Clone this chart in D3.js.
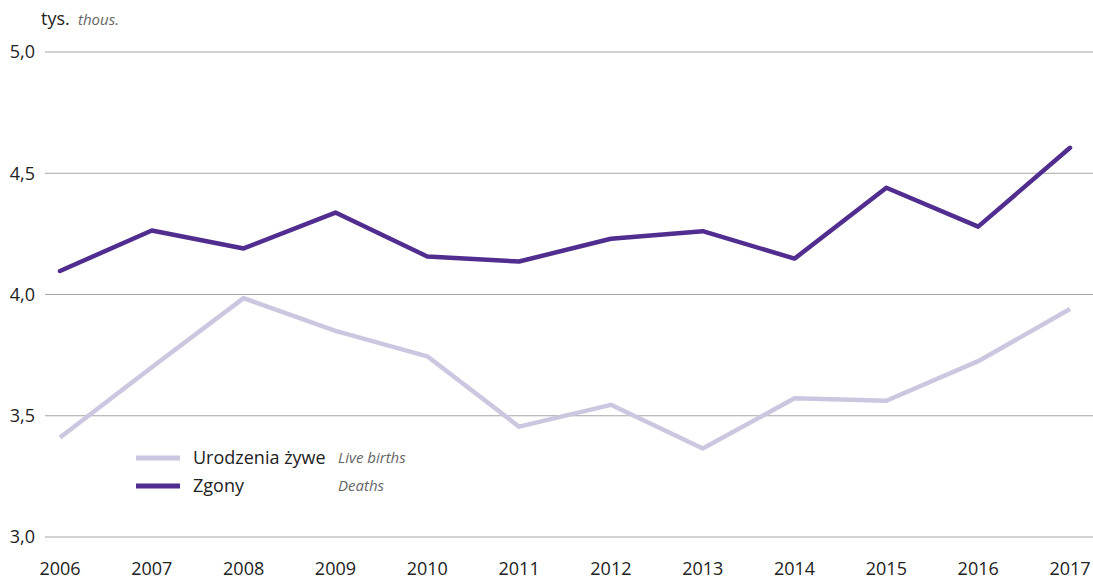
<!DOCTYPE html>
<html>
<head>
<meta charset="utf-8">
<script src="https://cdn.jsdelivr.net/npm/d3@7"></script>
<style>
  body { margin: 0; background: #fff; }
  svg { font-family: "Open Sans", "Noto Sans", sans-serif; }
</style>
</head>
<body>
<div id="chart"></div>
<script>
// data
var years = [2006, 2007, 2008, 2009, 2010, 2011, 2012, 2013, 2014, 2015, 2016, 2017];
var births = [3.41, 3.70, 3.985, 3.85, 3.745, 3.455, 3.545, 3.365, 3.572, 3.562, 3.725, 3.94];
var deaths = [4.097, 4.264, 4.19, 4.338, 4.157, 4.136, 4.23, 4.261, 4.148, 4.44, 4.28, 4.605];
var yTicks = [3.0, 3.5, 4.0, 4.5, 5.0];

var svgWidth = 1093, svgHeight = 579;

var svg = d3.select("#chart").append("svg")
  .attr("width", svgWidth)
  .attr("height", svgHeight);

var x = d3.scalePoint()
  .domain(years)
  .range([60, 1070]);

var y = d3.scaleLinear()
  .domain([3.0, 5.0])
  .range([537, 52]);

// gridlines
svg.append("g")
  .selectAll("line")
  .data(yTicks)
  .enter()
  .append("line")
  .attr("x1", 45)
  .attr("x2", svgWidth)
  .attr("y1", d => y(d))
  .attr("y2", d => y(d))
  .attr("stroke", "#a6a6a6")
  .attr("stroke-width", 1);

// y labels
svg.append("g")
  .selectAll("text")
  .data(yTicks)
  .enter()
  .append("text")
  .attr("x", 35)
  .attr("y", d => y(d))
  .attr("dy", "0.35em")
  .attr("text-anchor", "end")
  .attr("font-size", 18)
  .attr("fill", "#222")
  .text(d => d.toFixed(1).replace(".", ","));

// x labels
svg.append("g")
  .selectAll("text")
  .data(years)
  .enter()
  .append("text")
  .attr("x", d => x(d))
  .attr("y", 575)
  .attr("text-anchor", "middle")
  .attr("font-size", 18)
  .attr("fill", "#222")
  .text(d => d);

// unit label
svg.append("text")
  .attr("x", 41).attr("y", 25)
  .attr("font-size", 18).attr("fill", "#222")
  .text("tys.");
svg.append("text")
  .attr("x", 78).attr("y", 25)
  .attr("font-size", 15).attr("font-style", "italic").attr("fill", "#666")
  .text("thous.");

var line = d3.line()
  .x((d, i) => x(years[i]))
  .y(d => y(d));

svg.append("path")
  .datum(births)
  .attr("d", line)
  .attr("fill", "none")
  .attr("stroke", "#cdc6e0")
  .attr("stroke-width", 4.5)
  .attr("stroke-linejoin", "round");

svg.append("path")
  .datum(deaths)
  .attr("d", line)
  .attr("fill", "none")
  .attr("stroke", "#512d8f")
  .attr("stroke-width", 4.5)
  .attr("stroke-linejoin", "round")
  .attr("stroke-linecap", "round");

// legend
var legend = [
  { pl: "Urodzenia żywe", en: "Live births", color: "#cdc6e0" },
  { pl: "Zgony", en: "Deaths", color: "#512d8f" }
];
var lg = svg.append("g");
legend.forEach((d, i) => {
  var ly = 458 + i * 28;
  lg.append("line")
    .attr("x1", 136).attr("x2", 180)
    .attr("y1", ly).attr("y2", ly)
    .attr("stroke", d.color).attr("stroke-width", 5);
  lg.append("text")
    .attr("x", 193).attr("y", ly).attr("dy", "0.35em")
    .attr("font-size", 18).attr("fill", "#222")
    .text(d.pl);
  lg.append("text")
    .attr("x", 338).attr("y", ly).attr("dy", "0.35em")
    .attr("font-size", 15).attr("font-style", "italic").attr("fill", "#666")
    .text(d.en);
});
</script>
</body>
</html>
